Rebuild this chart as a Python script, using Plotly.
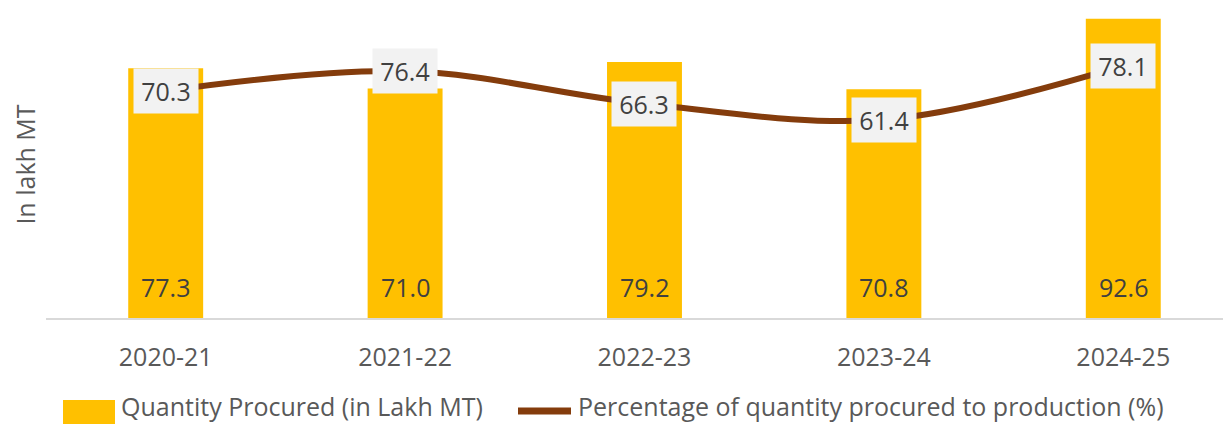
import plotly.graph_objects as go

years = ["2020-21", "2021-22", "2022-23", "2023-24", "2024-25"]
quantity = [77.3, 71.0, 79.2, 70.8, 92.6]
percentage = [70.3, 76.4, 66.3, 61.4, 78.1]

bar_name = "Quantity Procured (in Lakh MT)"
line_name = "Percentage of quantity procured to production (%)"

FONT = "Open Sans"
BAR = "#FFC000"
LINE = "#843C0C"
TEXT = "#404040"
GREY = "#595959"

# page has an 8px body margin, so the figure is 8px smaller than the window
OFF = 8
W, H = 1231 - OFF, 424 - OFF
L, R, T, B = 38, 0, 3, 106


def px(x):
    # reference pixel -> paper x
    return (x - OFF - L) / (W - L - R)


def py(y):
    # reference pixel -> paper y
    return (H - B - (y - OFF)) / (H - T - B)


fig = go.Figure()
fig.add_trace(go.Bar(
    x=years, y=quantity, name=bar_name,
    marker=dict(color=BAR, line=dict(width=0)),
    width=0.313, showlegend=False, hoverinfo="skip",
))
fig.add_trace(go.Scatter(
    x=years, y=percentage, name=line_name, yaxis="y2",
    mode="lines", line=dict(color=LINE, width=6, shape="spline", smoothing=1),
    showlegend=False, hoverinfo="skip",
))

# value labels
for yr, q in zip(years, quantity):
    fig.add_annotation(x=yr, y=0, yref="y", text=f"{q:.1f}", showarrow=False,
                       yanchor="bottom", yshift=12,
                       font=dict(family=FONT, size=25, color=TEXT))
for yr, p in zip(years, percentage):
    fig.add_annotation(x=yr, y=p, yref="y2", text=f"{p:.1f}", showarrow=False,
                       xanchor="center", yanchor="middle",
                       bgcolor="#F2F2F2", borderpad=7, width=50, height=30,
                       font=dict(family=FONT, size=25, color=TEXT))

# legend drawn by hand
fig.add_shape(type="rect", xref="paper", yref="paper",
              x0=px(63), x1=px(115), y0=py(400), y1=py(426),
              fillcolor=BAR, line=dict(width=0))
fig.add_annotation(xref="paper", yref="paper", x=px(119), y=py(406), text=bar_name,
                   xanchor="left", yanchor="middle", showarrow=False,
                   font=dict(family=FONT, size=25, color=GREY))
fig.add_shape(type="line", xref="paper", yref="paper",
              x0=px(518), x1=px(571), y0=py(411), y1=py(411),
              line=dict(color=LINE, width=7))
fig.add_annotation(xref="paper", yref="paper", x=px(576), y=py(406), text=line_name,
                   xanchor="left", yanchor="middle", showarrow=False,
                   font=dict(family=FONT, size=25, color=GREY))

fig.update_layout(
    width=W, height=H,
    margin=dict(l=L, r=R, t=T, b=B),
    plot_bgcolor="white", paper_bgcolor="white",
    font=dict(family=FONT, size=25, color=GREY),
    xaxis=dict(range=[-0.5, 4.45], showline=True, linecolor="#D9D9D9", linewidth=2,
               ticks="", ticklabelstandoff=16, showgrid=False,
               tickfont=dict(family=FONT, size=25, color=GREY)),
    yaxis=dict(range=[0, 95], showticklabels=False, showgrid=False, zeroline=False,
               title=dict(text="In lakh MT", standoff=11,
                          font=dict(family=FONT, size=25, color=GREY))),
    yaxis2=dict(range=[0, 95], overlaying="y", showticklabels=False, showgrid=False,
                zeroline=False),
)

fig.write_html("out.html")
